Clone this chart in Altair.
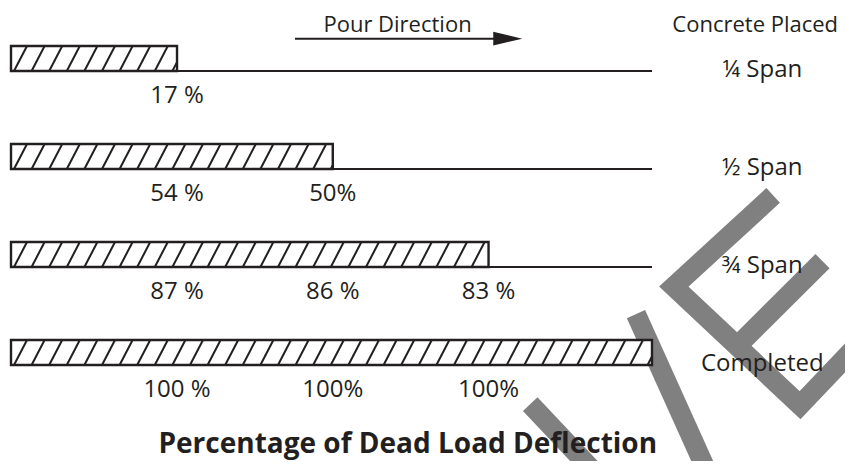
import altair as alt
import pandas as pd

# ---------------- data ----------------
stages = ["¼ Span", "½ Span", "¾ Span", "Completed"]
placed_pct = [25.9, 50.2, 74.5, 100.0]          # portion of span with concrete placed
check_pts = [25.9, 50.2, 74.5]                   # where deflection is reported
deflection_labels = [
    ["17 %"],
    ["54 %", "50%"],
    ["87 %", "86 %", "83 %"],
    ["100 %", "100%", "100%"],
]
header_texts = ["Pour Direction", "Concrete Placed"]
title_text = "Percentage of Dead Load Deflection"

# watermark strokes (x in % of span, y in row units)
wm_strokes = [
    [(118.9, 1.27), (103.4, 2.20), (123.1, 3.41), (132.0, 2.80)],
    [(113.1, 2.82), (126.6, 1.94)],
    [(97.5, 2.48), (108.8, 4.12)],
    [(81.0, 3.40), (94.0, 4.30)],
]

# ---------------- layout helpers ----------------
W, H = 837, 453
PX_PER_PCT = 6.41
PX_PER_ROW = 98.0
X0, Y0 = 3.0, 63.0
X = alt.Scale(domain=[-X0 / PX_PER_PCT, (W - X0) / PX_PER_PCT], nice=False, zero=False)
Y = alt.Scale(domain=[-Y0 / PX_PER_ROW, (H - Y0) / PX_PER_ROW], nice=False, zero=False, reverse=True)
BAR_H = 25 / PX_PER_ROW
INK = "#231f20"
FONT = "Open Sans"

bars = pd.DataFrame({
    "row": list(range(len(stages))),
    "stage": stages,
    "x": [0.0] * len(stages),
    "x2": placed_pct,
})
bars["top"] = bars["row"] - BAR_H
bars["end"] = 100.0

# hatch segments built from bar extents
spacing = 17.6 / PX_PER_PCT
dx = 13.0 / PX_PER_PCT
phase = 3.0 / PX_PER_PCT
hatch = []
for i, L in enumerate(placed_pct):
    k = -1
    while True:
        xb = phase + k * spacing
        if xb >= L:
            break
        xs, t0 = xb, 0.0
        if xs < 0:
            t0 = -xb / dx
            xs = 0.0
        xe, t1 = xb + dx, 1.0
        if xe > L:
            t1 = (L - xb) / dx
            xe = L
        if t1 > t0:
            hatch.append({"x": xs, "x2": xe, "y": i - t0 * BAR_H, "y2": i - t1 * BAR_H})
        k += 1
hatch = pd.DataFrame(hatch)

pct_rows = []
for i, labs in enumerate(deflection_labels):
    for j, lab in enumerate(labs):
        pct_rows.append({"x": check_pts[j], "y": i + 0.25, "t": lab})
pct = pd.DataFrame(pct_rows)

right = pd.DataFrame({"x": [117.2] * len(stages), "y": [r - 0.01 for r in range(len(stages))], "t": stages})
heads = pd.DataFrame({"x": [60.3, 116.1], "y": [-0.398, -0.398], "t": header_texts})
title_df = pd.DataFrame({"x": [61.9], "y": [3.90], "t": [title_text]})
arrow = pd.DataFrame({"x": [44.3], "x2": [77.5], "y": [-0.33]})
arrow_head = pd.DataFrame({"x": [77.5], "y": [-0.33]})

wm_rows = []
for s, pts in enumerate(wm_strokes):
    for o, (px, py) in enumerate(pts):
        wm_rows.append({"s": s, "o": o, "x": px, "y": py})
wm = pd.DataFrame(wm_rows)

ax = dict(axis=None)

watermark = alt.Chart(wm).mark_line(color="#808080", strokeWidth=20, strokeCap="butt", strokeJoin="miter").encode(
    x=alt.X("x:Q", scale=X, **ax), y=alt.Y("y:Q", scale=Y, **ax), detail="s:N", order="o:Q")

remainder = alt.Chart(bars).transform_filter("datum.x2 < 100").mark_rule(color=INK, strokeWidth=2).encode(
    x=alt.X("x2:Q", scale=X, **ax), x2="end:Q", y=alt.Y("row:Q", scale=Y, **ax))

fill = alt.Chart(bars).mark_rect(fill="white").encode(
    x=alt.X("x:Q", scale=X, **ax), x2="x2:Q", y=alt.Y("top:Q", scale=Y, **ax), y2="row:Q")

hatch_l = alt.Chart(hatch).mark_rule(color=INK, strokeWidth=2).encode(
    x=alt.X("x:Q", scale=X, **ax), x2="x2:Q", y=alt.Y("y:Q", scale=Y, **ax), y2="y2:Q")

outline = alt.Chart(bars).mark_rect(fill=None, stroke=INK, strokeWidth=2.4).encode(
    x=alt.X("x:Q", scale=X, **ax), x2="x2:Q", y=alt.Y("top:Q", scale=Y, **ax), y2="row:Q")

def txt(df, size=24, weight="normal", baseline="middle"):
    return alt.Chart(df).mark_text(font=FONT, fontSize=size, fontWeight=weight, color=INK,
                                   align="center", baseline=baseline).encode(
        x=alt.X("x:Q", scale=X, **ax), y=alt.Y("y:Q", scale=Y, **ax), text="t:N")

arrow_l = alt.Chart(arrow).mark_rule(color=INK, strokeWidth=2).encode(
    x=alt.X("x:Q", scale=X, **ax), x2="x2:Q", y=alt.Y("y:Q", scale=Y, **ax))
arrow_h = alt.Chart(arrow_head).mark_point(shape="M-1,-0.48L1,0L-1,0.48Z", size=841, filled=True,
                                           color=INK, opacity=1, strokeWidth=0).encode(
    x=alt.X("x:Q", scale=X, **ax), y=alt.Y("y:Q", scale=Y, **ax))

chart = alt.layer(
    watermark, remainder, fill, hatch_l, outline,
    txt(pct), txt(right), txt(heads, size=22, baseline="alphabetic"),
    txt(title_df, size=28, weight="bold", baseline="alphabetic"),
    arrow_l, arrow_h,
).properties(
    width=W, height=H, padding=0,
    autosize=alt.AutoSizeParams(type="none"),
    background="white",
).configure_view(stroke=None)

chart.save("out.html", embed_options={"renderer": "svg", "actions": False})
